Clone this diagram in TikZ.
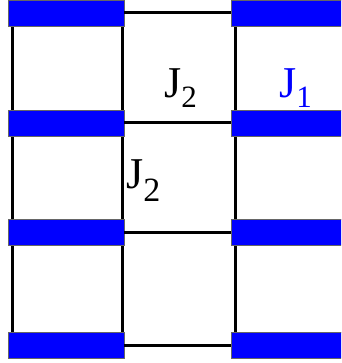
\documentclass[tikz,border=0pt]{standalone}
\usepackage{fontspec}
\setmainfont{Liberation Serif}
\usepackage{xcolor}

\newcommand{\jsub}[3]{J\raisebox{#2}{\fontsize{#3}{#3}\selectfont #1}}

\tikzset{
  bar/.style={draw=black!60,line width=0.8pt,fill=blue,inner sep=0pt,
    minimum width=116pt,minimum height=26pt},
  leg/.style={line width=3pt,black},
  coupling/.style={font=\fontsize{44}{44}\selectfont,inner sep=0pt,anchor=base west}
}

\begin{document}
\begin{tikzpicture}[line cap=butt,line join=miter,x=1pt,y=-1pt]
  \useasboundingbox (0,0) rectangle (341,363);
  \clip (0,0) rectangle (341,363);
  % rungs of the ladder
  \foreach \i/\y in {1/13,2/123,3/232,4/345}{
    \coordinate (l\i) at (66,\y);
    \coordinate (r\i) at (289,\y);
  }
  % legs
  \draw[leg] ([xshift=-54pt]l1) -- ([xshift=-54pt]l4);
  \draw[leg] ([xshift=56pt]l1) -- ([xshift=56pt]l4);
  \draw[leg] ([xshift=-54pt]r1) -- ([xshift=-54pt]r4);
  % blue bonds
  \foreach \i in {1,...,4}{
    \node[bar] (L\i) at (l\i) {};
    \node[bar] (R\i) at (r\i) {};
    \draw[leg] (L\i.east) -- (R\i.west);
  }
  % couplings
  \node[coupling] (j2a) at (164,98) {\jsub{2}{-10pt}{31}};
  \node[coupling,blue] (j1) at (279,98) {\jsub{1}{-10pt}{31}};
  \node[coupling] (j2b) at (126,188) {\jsub{2}{-13pt}{34}};
\end{tikzpicture}
\end{document}
